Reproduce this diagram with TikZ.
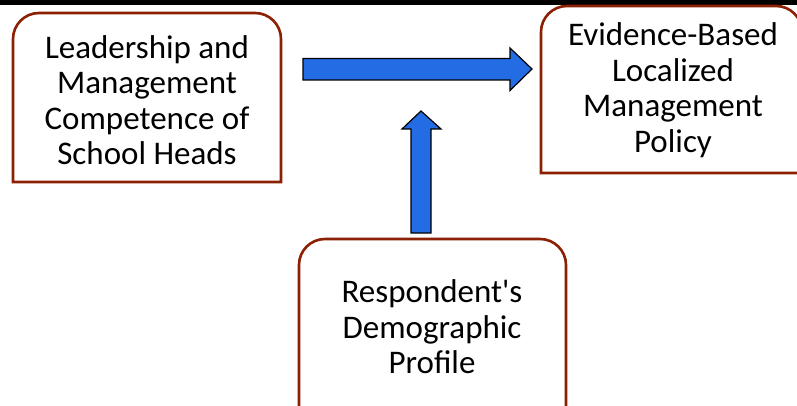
\documentclass[tikz,border=0pt]{standalone}
\usepackage{fontspec}
\setmainfont{Carlito}
\usetikzlibrary{positioning}
\definecolor{boxbrown}{RGB}{140,32,4}
\definecolor{arrowblue}{RGB}{36,108,228}

\begin{document}
\begin{tikzpicture}[
    x=1pt,y=-1pt,
    label/.style={align=center,font=\fontsize{33}{35.5}\selectfont,inner sep=0pt},
    frame/.style={draw=boxbrown,line width=2.6pt,fill=white},
    blockarrow/.style={draw=black,fill=arrowblue,line width=1.2pt,line join=miter}
  ]
    \useasboundingbox (0,0) rectangle (797,406);
    \fill[black] (0,0) rectangle (797,5);

    % boxes, only the top corners are rounded
    \draw[frame] (13,182) [rounded corners=26pt] -- (13,13) -- (281,13) [sharp corners] -- (281,182) -- cycle;
    \draw[frame] (541,173) [rounded corners=26pt] -- (541,6) -- (802,6) [sharp corners] -- (802,173) -- cycle;
    \draw[frame] (299,412) [rounded corners=26pt] -- (299,239) -- (566,239) [sharp corners] -- (566,412) -- cycle;

    \node[label] (lead) at (147,100) {Leadership and\\Management\\Competence of\\School Heads};
    \node[label] (policy) at (673,90) {Evidence-Based\\Localized\\Management\\Policy};
    \node[label] (profile) at (432,327) {Respondent\textquotesingle s\\Demographic\\Profile};

    % block arrows
    \coordinate (hstart) at (303,69);
    \coordinate (htip) at (532,69);
    \coordinate (vstart) at (421,233);
    \coordinate (vtip) at (421,111);
    \draw[blockarrow] (hstart) ++(0,-10.5) -- ++(207,0) -- ++(0,-10.5) -- (htip)
      -- ++(-22,21.5) -- ++(0,-10.5) -- ++(-207,0) -- cycle;
    \draw[blockarrow] (vstart) ++(-10,0) -- ++(0,-104) -- ++(-9,0) -- (vtip)
      -- ++(20,18) -- ++(-10,0) -- ++(0,104) -- cycle;
  \end{tikzpicture}
\end{document}
